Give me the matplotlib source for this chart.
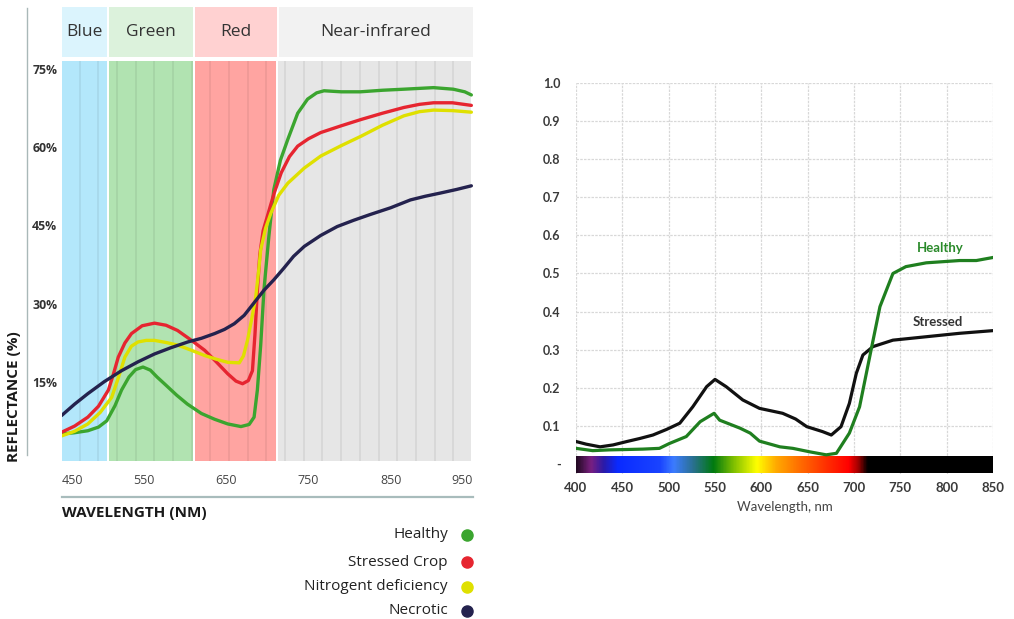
import numpy as np
import matplotlib
matplotlib.use("Agg")
import matplotlib.pyplot as plt
from matplotlib.lines import Line2D
from matplotlib.colors import LinearSegmentedColormap

# ---- left panel: reflectance (%) by wavelength, four crop states ----
band_names = ["Blue", "Green", "Red", "Near-infrared"]
band_start = [450, 507.5, 611.7, 713.4]
band_end = [505.1, 609.2, 710.9, 948]

healthy_wl = [450, 465, 482, 495, 505, 515, 523, 532, 540, 549, 558, 566, 575, 590,
              603, 620, 636, 652, 668, 678, 684, 688, 692, 696, 702, 708, 716, 725,
              737, 749, 760, 769, 790, 813, 840, 866, 902, 926, 940, 948]
healthy_r = [5.1, 5.3, 5.7, 6.4, 7.6, 10.5, 13.5, 16.0, 17.4, 17.9, 17.3, 16.0, 14.7, 12.5,
             10.8, 9.0, 7.9, 7.0, 6.5, 6.9, 8.3, 13.5, 22.0, 32.7, 43.0, 51.9, 57.5, 61.5,
             66.5, 69.2, 70.4, 70.8, 70.6, 70.6, 70.9, 71.1, 71.4, 71.1, 70.6, 70.0]

stressed_wl = [450, 466, 482, 495, 507, 513, 519, 527, 535, 548, 563, 577, 591, 608,
               624, 638, 652, 662, 670, 677, 682, 685, 688, 691, 695, 700, 708, 717,
               727, 737, 750, 765, 790, 814, 840, 866, 885, 902, 925, 948]
stressed_r = [5.4, 6.6, 8.3, 10.4, 13.5, 16.5, 19.8, 22.5, 24.3, 25.8, 26.3, 25.9, 24.9, 23.0,
              21.1, 18.9, 16.6, 15.2, 14.7, 15.3, 17.2, 24.0, 32.6, 39.5, 44.0, 46.7, 51.0, 55.1,
              58.2, 60.2, 61.6, 62.8, 64.1, 65.3, 66.5, 67.6, 68.2, 68.5, 68.5, 68.0]

nitro_wl = [450, 466, 482, 497, 511, 519, 527, 535, 543, 553, 563, 577, 591, 608,
            624, 638, 652, 666, 671, 676, 681, 686, 690, 692, 698, 704.5, 714, 725,
            745, 765, 790, 814, 840, 866, 885, 902, 925, 948]
nitro_r = [4.7, 5.6, 7.0, 9.2, 12.1, 15.8, 19.8, 21.9, 22.7, 23.0, 23.0, 22.6, 22.1, 21.1,
           20.1, 19.4, 18.8, 18.7, 20.0, 23.0, 27.0, 31.3, 37.0, 40.3, 44.5, 47.4, 50.8, 53.1,
           56.0, 58.3, 60.3, 62.1, 64.2, 66.0, 66.8, 67.1, 67.0, 66.7]

necro_wl = [450, 466, 482, 502, 523, 543, 563, 583, 603.5, 620, 636, 648, 660, 672,
            684, 696, 708, 720, 732, 745, 765, 785, 805, 825, 850, 874, 892, 910, 930, 948]
necro_r = [8.6, 10.8, 12.8, 15.1, 17.2, 18.9, 20.4, 21.6, 22.7, 23.4, 24.3, 25.1, 26.2, 27.8,
           30.2, 32.6, 34.6, 36.8, 39.1, 41.0, 43.1, 44.8, 46.0, 47.1, 48.4, 49.9, 50.6, 51.2,
           51.9, 52.6]

left_xticks = [450, 550, 650, 750, 850, 950]
left_yticks = [15, 30, 45, 60, 75]

# ---- right panel: reflectance (0-1), healthy vs stressed ----
r_healthy_wl = [400, 418, 436, 455, 472, 490, 501, 519, 534, 549, 555, 577, 588, 598,
                620, 634, 652, 670, 681, 695, 706, 717, 728, 742, 756, 778, 814, 832, 850]
r_healthy = [0.041, 0.035, 0.037, 0.038, 0.039, 0.041, 0.054, 0.072, 0.111, 0.133, 0.115,
             0.094, 0.081, 0.060, 0.045, 0.041, 0.032, 0.024, 0.028, 0.081, 0.150, 0.282,
             0.413, 0.500, 0.518, 0.528, 0.534, 0.534, 0.542]

r_stressed_wl = [400, 411, 426, 440, 455, 469, 483, 498, 512, 526, 541, 550, 562, 580, 598,
                 623, 637, 649, 666, 675.5, 686, 695, 702.5, 709.6, 720.4, 742, 778, 814, 850]
r_stressed = [0.059, 0.052, 0.045, 0.050, 0.059, 0.067, 0.076, 0.091, 0.107, 0.150, 0.203,
              0.222, 0.203, 0.168, 0.146, 0.133, 0.118, 0.098, 0.085, 0.076, 0.098, 0.159,
              0.238, 0.286, 0.308, 0.325, 0.334, 0.343, 0.350]

right_xticks = [400, 450, 500, 550, 600, 650, 700, 750, 800, 850]
right_yticks = [0, 0.1, 0.2, 0.3, 0.4, 0.5, 0.6, 0.7, 0.8, 0.9, 1.0]
right_ylabels = ["-", "0.1", "0.2", "0.3", "0.4", "0.5", "0.6", "0.7", "0.8", "0.9", "1.0"]

BAND_FILL = ["#b3e7fb", "#b1e3b1", "#ffa4a1", "#e6e6e6"]
BAND_HEAD = ["#dbf4fd", "#dcf2dc", "#ffd1d1", "#f2f2f2"]
SERIES = [
    ("Healthy", healthy_wl, healthy_r, "#3ba52f"),
    ("Stressed Crop", stressed_wl, stressed_r, "#e62530"),
    ("Nitrogent deficiency", nitro_wl, nitro_r, "#dfe000"),
    ("Necrotic", necro_wl, necro_r, "#24224e"),
]

W, H = 1014, 619
fig = plt.figure(figsize=(W / 100, H / 100), dpi=100)


def box(x0, y0, x1, y1):
    return [x0 / W, 1 - y1 / H, (x1 - x0) / W, (y1 - y0) / H]


LFONT = "Open Sans"

# header strip
hax = fig.add_axes(box(61.5, 7, 473, 57))
hax.set_xlim(450, 948)
hax.set_ylim(0, 1)
hax.axis("off")
for name, a, b, c in zip(band_names, band_start, band_end, BAND_HEAD):
    hax.axvspan(a, b, color=c, lw=0)
    hax.text((a + b) / 2, 0.5, name, ha="center", va="center",
             fontsize=12.5, family=LFONT, color="#333333")

# main left plot
ax = fig.add_axes(box(61.5, 61, 473, 460.5))
ax.set_xlim(450, 948)
ax.set_ylim(0, 76.5)
for a, b, c in zip(band_start, band_end, BAND_FILL):
    ax.axvspan(a, b, color=c, lw=0, zorder=0)
for xv in np.arange(472, 948, 22.7):
    ax.axvline(xv, color="black", alpha=0.08, lw=1.1, zorder=1)
for name, xs, ys, c in SERIES:
    ax.plot(xs, ys, color=c, lw=2.4, solid_capstyle="round", solid_joinstyle="round", zorder=3)
for s in ax.spines.values():
    s.set_visible(False)
ax.tick_params(length=0)
ax.set_xticks(left_xticks)
ax.set_xticklabels([str(v) for v in left_xticks], family=LFONT, fontsize=9, color="#444444")
xl = ax.get_xticklabels()
xl[0].set_ha("left")
xl[-1].set_ha("right")
ax.tick_params(axis="x", pad=10)
ax.set_yticks(left_yticks)
ax.set_yticklabels([f"{v}%" for v in left_yticks], family=LFONT, fontsize=8.8,
                   fontweight="bold", color="#333333")
ax.tick_params(axis="y", pad=3)

fig.add_artist(Line2D([27 / W, 27 / W], [1 - 8 / H, 1 - 455 / H], color="#a9b8b8", lw=1))
fig.add_artist(Line2D([61.5 / W, 473 / W], [1 - 497 / H, 1 - 497 / H], color="#a8bcbc", lw=1.6))
fig.text(14 / W, 1 - 462 / H, "REFLECTANCE (%)", rotation=90, ha="center", va="bottom",
         family=LFONT, fontsize=11, fontweight="bold", color="#1a1a1a")
fig.text(61.5 / W, 1 - 513 / H, "WAVELENGTH (NM)", ha="left", va="center",
         family=LFONT, fontsize=11, fontweight="bold", color="#1a1a1a")

legend_y = [535, 562, 587, 611]
for (name, _, _, c), y in zip(SERIES, legend_y):
    fig.text(448 / W, 1 - y / H, name, ha="right", va="center",
             family=LFONT, fontsize=11, color="#222222")
    fig.add_artist(Line2D([467 / W], [1 - y / H], marker="o", markersize=8,
                          color=c, lw=0))

# ---- right plot ----
RFONT = "Lato"
ax2 = fig.add_axes(box(576, 83, 993, 473.5))
ax2.set_xlim(400, 850)
ax2.set_ylim(-0.025, 1.0)
ax2.set_xticks(right_xticks)
ax2.set_yticks(right_yticks)
ax2.set_xticklabels([str(v) for v in right_xticks], family=RFONT, fontsize=9.5,
                    fontweight="bold", color="#3a3a3a")
ax2.set_yticklabels(right_ylabels, family=RFONT, fontsize=9,
                    fontweight="bold", color="#3a3a3a")
ax2.tick_params(length=0)
ax2.tick_params(axis="x", pad=6)
ax2.tick_params(axis="y", pad=11)
ax2.grid(True, color="#d8d8d8", lw=0.9, ls=(0, (2, 1)))
ax2.set_axisbelow(True)
for s in ax2.spines.values():
    s.set_visible(False)

spec_nodes = [(400, "#240a24"), (415, "#7a2080"), (429, "#2a1aa8"), (444, "#0a2aff"),
              (490, "#1a44ff"), (505, "#3c7cff"), (526, "#2a7090"), (548, "#007a10"),
              (570, "#80c000"), (595, "#ffff00"), (616, "#ffaa00"), (640, "#ff7000"),
              (670, "#ff3000"), (695, "#ff0000"), (705, "#a00000"), (715, "#000000"),
              (850, "#000000")]
spec_cmap = LinearSegmentedColormap.from_list(
    "spec", [((w - 400) / 450, c) for w, c in spec_nodes])
grad = np.linspace(0, 1, 900).reshape(1, -1)
ax2.imshow(grad, cmap=spec_cmap, extent=[400, 850, -0.024, 0.018], aspect="auto",
           zorder=2, interpolation="bilinear")
ax2.set_xlim(400, 850)
ax2.set_ylim(-0.025, 1.0)

ax2.plot(r_stressed_wl, r_stressed, color="#111111", lw=2.3, zorder=3)
ax2.plot(r_healthy_wl, r_healthy, color="#1f7f1f", lw=2.3, zorder=4)
ax2.text(793, 0.566, "Healthy", ha="center", va="center", family=RFONT, fontsize=9.5,
         fontweight="bold", color="#2a8a2a")
ax2.text(790, 0.373, "Stressed", ha="center", va="center", family=RFONT, fontsize=9.5,
         fontweight="bold", color="#333333")
fig.text(785 / W, 1 - 507 / H, "Wavelength, nm", ha="center", va="center",
         family=RFONT, fontsize=9.5, color="#444444")

fig.savefig("out.png", dpi=100)
